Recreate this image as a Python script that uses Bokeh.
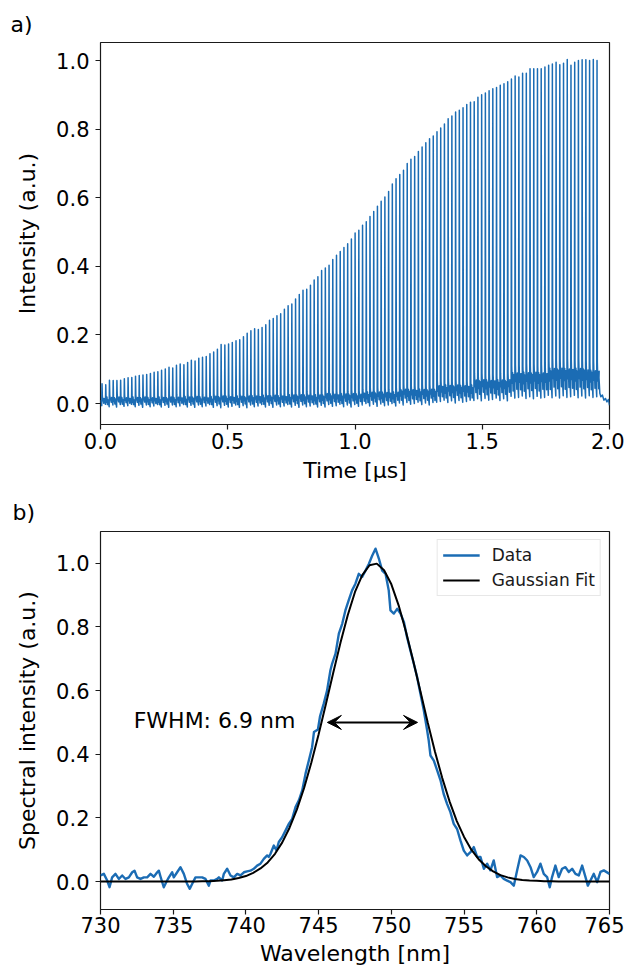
import numpy as np
from bokeh.plotting import figure
from bokeh.layouts import column
from bokeh.models import (Range1d, FixedTicker, NumeralTickFormatter, Legend, LegendItem,
                          Arrow, VeeHead, Label, Title)
from bokeh.embed import file_html
from bokeh.resources import INLINE

FONT = "DejaVu Sans"
BLUE = "#1b6cb4"

# ---------------- panel a) : pulse train ----------------
pulse_period = 0.014624   # us
first_pulse = 0.006       # us
pulse_peaks = [
    0.058, 0.055, 0.068, 0.067, 0.067, 0.068, 0.072, 0.075, 0.076, 0.080,
    0.082, 0.083, 0.085, 0.088, 0.091, 0.093, 0.097, 0.101, 0.106, 0.104,
    0.112, 0.115, 0.113, 0.120, 0.126, 0.124, 0.132, 0.135, 0.137, 0.145,
    0.150, 0.158, 0.172, 0.171, 0.174, 0.178, 0.183, 0.186, 0.195, 0.205,
    0.212, 0.218, 0.216, 0.222, 0.230, 0.243, 0.248, 0.256, 0.262, 0.275,
    0.285, 0.290, 0.305, 0.318, 0.330, 0.333, 0.345, 0.360, 0.370, 0.388,
    0.395, 0.403, 0.420, 0.432, 0.443, 0.455, 0.466, 0.480, 0.497, 0.505,
    0.520, 0.530, 0.545, 0.560, 0.575, 0.590, 0.602, 0.618, 0.640, 0.655,
    0.668, 0.680, 0.700, 0.712, 0.720, 0.735, 0.748, 0.760, 0.772, 0.780,
    0.792, 0.803, 0.815, 0.830, 0.838, 0.850, 0.855, 0.862, 0.872, 0.878,
    0.880, 0.893, 0.900, 0.905, 0.912, 0.918, 0.921, 0.928, 0.932, 0.938,
    0.946, 0.955, 0.952,
    0.963, 0.963, 0.976, 0.976, 0.976, 0.976, 0.981, 0.986, 0.990, 0.995,
    0.988, 0.992, 1.003, 0.986, 0.995, 1.000, 1.002, 1.002, 1.000, 1.003, 1.000,
]
# levels between pulses, one value per block of 10 pulses
tail_level = [0.022, 0.022, 0.024, 0.026, 0.029, 0.032, 0.036, 0.042, 0.052, 0.066, 0.085, 0.112, 0.128, 0.122]
base_level = [0.008, 0.008, 0.009, 0.010, 0.011, 0.012, 0.014, 0.018, 0.024, 0.034, 0.046, 0.062, 0.070, 0.066]
floor_level = [-0.006, -0.007, -0.007, -0.008, -0.007, -0.007, -0.006, -0.004, 0.000, 0.006, 0.012, 0.018, 0.020, 0.020]
ripple = [0.000, 0.004, -0.003, 0.002, -0.004, 0.003, -0.002]
end_t = [1.9535, 1.958, 1.962, 1.966, 1.972, 1.978, 1.984, 1.990, 1.996, 2.000]
end_v = [0.090, 0.085, 0.030, 0.020, 0.025, 0.010, 0.015, 0.005, 0.012, -0.005]

a_xticks = [0.0, 0.5, 1.0, 1.5, 2.0]
a_yticks = [0.0, 0.2, 0.4, 0.6, 0.8, 1.0]

# ---------------- panel b) : spectrum ----------------
wl_data = [
    730.00, 730.23, 730.46, 730.62, 730.80, 731.03, 731.26, 731.49, 731.72, 731.95,
    732.18, 732.34, 732.52, 732.75, 732.98, 733.21, 733.44, 733.67, 733.90, 734.01,
    734.13, 734.35, 734.58, 734.70, 734.93, 735.04, 735.27, 735.50, 735.73, 735.96,
    736.14, 736.30, 736.53, 736.76, 736.99, 737.22, 737.45, 737.56, 737.79, 738.02,
    738.14, 738.37, 738.48, 738.71, 738.94, 739.17, 739.40, 739.63, 739.86, 740.08,
    740.31, 740.54, 740.77, 741.00, 741.23, 741.46, 741.57, 741.69, 741.92, 742.10,
    742.26, 742.49, 742.72, 742.95, 743.18, 743.41, 743.64, 743.87, 744.10, 744.33,
    744.55, 744.68, 744.95, 745.10, 745.35, 745.58, 745.81, 745.93, 746.16, 746.39,
    746.62, 746.84, 747.07, 747.30, 747.53, 747.76, 747.99, 748.22, 748.45, 748.68,
    748.91, 749.14, 749.37, 749.60, 749.82, 749.94, 750.17, 750.40, 750.63, 750.86,
    751.08, 751.31, 751.54, 751.77, 752.00, 752.23, 752.46, 752.57, 752.69, 752.92,
    753.15, 753.38, 753.60, 753.83, 754.06, 754.29, 754.52, 754.75, 754.98, 755.21,
    755.44, 755.67, 755.90, 756.13, 756.36, 756.59, 756.81, 757.04, 757.27, 757.50,
    757.73, 757.96, 758.19, 758.42, 758.65, 758.88, 759.11, 759.34, 759.57, 759.79,
    760.02, 760.25, 760.48, 760.71, 760.89, 761.05, 761.28, 761.51, 761.74, 761.97,
    762.20, 762.43, 762.66, 762.89, 763.12, 763.35, 763.51, 763.69, 763.92, 764.15,
    764.38, 764.61, 765.00,
]
spec_data = [
    0.019, 0.024, 0.003, -0.018, 0.013, 0.024, 0.008, 0.019, 0.008, 0.013,
    0.029, 0.034, 0.013, 0.008, 0.013, 0.013, 0.024, 0.015, 0.029, 0.034,
    0.015, -0.018, 0.003, 0.013, 0.029, 0.013, 0.029, 0.045, 0.024, -0.008,
    -0.023, -0.008, 0.013, 0.013, 0.013, 0.008, -0.013, 0.003, 0.003, 0.008,
    0.013, 0.003, 0.024, 0.040, 0.019, 0.013, 0.024, 0.019, 0.029, 0.032,
    0.034, 0.040, 0.050, 0.056, 0.071, 0.082, 0.077, 0.087, 0.113, 0.098,
    0.124, 0.139, 0.160, 0.181, 0.197, 0.234, 0.255, 0.286, 0.339, 0.381,
    0.422, 0.470, 0.478, 0.520, 0.559, 0.600, 0.664, 0.685, 0.716, 0.779,
    0.810, 0.852, 0.884, 0.915, 0.936, 0.967, 0.957, 0.977, 0.998, 1.024,
    1.046, 1.015, 0.977, 0.967, 0.915, 0.852, 0.842, 0.857, 0.842, 0.816,
    0.768, 0.726, 0.685, 0.643, 0.590, 0.538, 0.475, 0.443, 0.396, 0.380,
    0.349, 0.318, 0.275, 0.244, 0.218, 0.181, 0.165, 0.129, 0.097, 0.082,
    0.092, 0.108, 0.077, 0.077, 0.040, 0.056, 0.035, 0.066, 0.014, 0.019,
    0.008, 0.003, -0.002, -0.013, 0.035, 0.082, 0.077, 0.066, 0.045, 0.014,
    0.030, 0.056, 0.024, 0.014, -0.018, 0.014, 0.050, 0.014, 0.040, 0.045,
    0.030, 0.040, 0.024, 0.019, 0.050, 0.014, -0.013, 0.003, 0.024, -0.002,
    0.030, 0.035, 0.024,
]
fit_wl_start, fit_wl_step = 730.0, 0.5
fit_values = [
    0.0, 0.0, 0.0, 0.0, 0.0, 0.0, 0.0, 0.0, 0.0, 0.0, 0.0, 0.0, 0.0, 0.0, 0.001, 0.001,
    0.002, 0.004, 0.006, 0.011, 0.017, 0.027, 0.041, 0.060, 0.087, 0.123, 0.169, 0.226,
    0.294, 0.374, 0.463, 0.558, 0.655, 0.750, 0.837, 0.910, 0.963, 0.994, 0.999, 0.978,
    0.934, 0.868, 0.786, 0.694, 0.597, 0.500, 0.408, 0.325, 0.252, 0.190, 0.140, 0.100,
    0.070, 0.048, 0.032, 0.020, 0.013, 0.008, 0.005, 0.003, 0.002, 0.001, 0.001,
    0.0, 0.0, 0.0, 0.0, 0.0, 0.0, 0.0, 0.0,
]
fwhm_text = "FWHM: 6.9 nm"
fwhm_arrow = (745.6, 751.8, 0.5)
b_xticks = [730, 735, 740, 745, 750, 755, 760, 765]
b_yticks = [0.0, 0.2, 0.4, 0.6, 0.8, 1.0]


def style(p, xlabel, ylabel):
    p.outline_line_color = "#1a1a1a"
    p.outline_line_width = 1.2
    p.xgrid.visible = False
    p.ygrid.visible = False
    p.background_fill_color = "white"
    p.border_fill_color = "white"
    for ax in (p.xaxis[0], p.yaxis[0]):
        ax.axis_line_color = None
        ax.major_tick_out = 5
        ax.major_tick_in = 0
        ax.minor_tick_out = 0
        ax.minor_tick_in = 0
        ax.major_tick_line_color = "#1a1a1a"
        ax.major_tick_line_width = 1.2
        ax.major_label_text_font = FONT
        ax.major_label_text_font_size = "21px"
        ax.major_label_text_color = "black"
        ax.axis_label_text_font = FONT
        ax.axis_label_text_font_size = "22px"
        ax.axis_label_text_font_style = "normal"
        ax.axis_label_text_color = "black"
    p.xaxis.axis_label = xlabel
    p.yaxis.axis_label = ylabel
    p.yaxis.major_label_standoff = 6
    p.yaxis.axis_label_standoff = 13
    p.xaxis.major_label_standoff = 3
    p.xaxis.axis_label_standoff = 6


# ---- build panel a trace ----
t_trace = [0.0]
y_trace = [0.010]
for i, pk in enumerate(pulse_peaks):
    ti = first_pulse + i * pulse_period
    b = i // 10
    r = ripple[i % len(ripple)]
    tl, bl, fl = tail_level[b], base_level[b], floor_level[b]
    t_trace += [ti - 0.0045, ti - 0.0012, ti, ti + 0.0012,
                ti + 0.0030, ti + 0.0048, ti + 0.0066, ti + 0.0084]
    y_trace += [bl + r, fl + r, pk, tl - r,
                bl - r, 0.5 * (tl + bl) + r, fl + 0.5 * (bl - fl) - r, 0.5 * (tl + bl) - r]
t_trace += end_t
y_trace += end_v

p1 = figure(width=624, height=490, output_backend="svg", toolbar_location=None,
            x_range=Range1d(0.0, 2.0), y_range=Range1d(-0.061, 1.0525),
            min_border_left=94, min_border_right=14, min_border_top=42, min_border_bottom=66)
p1.line(t_trace, y_trace, line_width=1.5, color=BLUE, line_join="round")
style(p1, "Time [μs]", "Intensity (a.u.)")
p1.xaxis.ticker = FixedTicker(ticks=a_xticks)
p1.yaxis.ticker = FixedTicker(ticks=a_yticks)
p1.xaxis.formatter = NumeralTickFormatter(format="0.0")
p1.yaxis.formatter = NumeralTickFormatter(format="0.0")
p1.add_layout(Title(text="a)", align="left", offset=-90, standoff=12, text_font=FONT,
                    text_font_size="22px", text_font_style="normal", text_color="black"), "above")

# ---- panel b ----
fit_wl = [fit_wl_start + k * fit_wl_step for k in range(len(fit_values))]

p2 = figure(width=624, height=481, output_backend="svg", toolbar_location=None,
            x_range=Range1d(730, 765), y_range=Range1d(-0.088, 1.10),
            min_border_left=100, min_border_right=15, min_border_top=41, min_border_bottom=62)
r_data = p2.line(wl_data, spec_data, line_width=2.4, color=BLUE, line_join="round")
r_fit = p2.line(fit_wl, fit_values, line_width=2.0, color="black")
style(p2, "Wavelength [nm]", "Spectral intensity (a.u.)")
p2.xaxis.major_label_standoff = 2
p2.xaxis.axis_label_standoff = 5
p2.xaxis.ticker = FixedTicker(ticks=b_xticks)
p2.yaxis.ticker = FixedTicker(ticks=b_yticks)
p2.xaxis.formatter = NumeralTickFormatter(format="0")
p2.yaxis.formatter = NumeralTickFormatter(format="0.0")
p2.add_layout(Title(text="b)", align="left", offset=-88, standoff=13, text_font=FONT,
                    text_font_size="22px", text_font_style="normal", text_color="black"), "above")

p2.add_layout(Arrow(x_start=fwhm_arrow[0], y_start=fwhm_arrow[2], x_end=fwhm_arrow[1], y_end=fwhm_arrow[2],
                    line_color="black", line_width=2,
                    start=VeeHead(size=14, fill_color="black", line_color="black"),
                    end=VeeHead(size=14, fill_color="black", line_color="black")))
p2.add_layout(Label(x=743.4, y=0.505, text=fwhm_text, text_align="right", text_baseline="middle",
                    text_font=FONT, text_font_size="22px", text_color="black"))

legend = Legend(items=[LegendItem(label="Data", renderers=[r_data]),
                       LegendItem(label="Gaussian Fit", renderers=[r_fit])],
                location="top_right", margin=8, padding=5, spacing=5,
                label_text_font=FONT, label_text_font_size="17px", label_text_color="#1a1a1a",
                glyph_width=37, glyph_height=20, label_standoff=12, label_height=20,
                border_line_color="#d0d0d0", border_line_width=1, background_fill_alpha=0.85)
p2.add_layout(legend)

layout = column(p1, p2, spacing=0)
open("out.html", "w").write(file_html(layout, INLINE))
